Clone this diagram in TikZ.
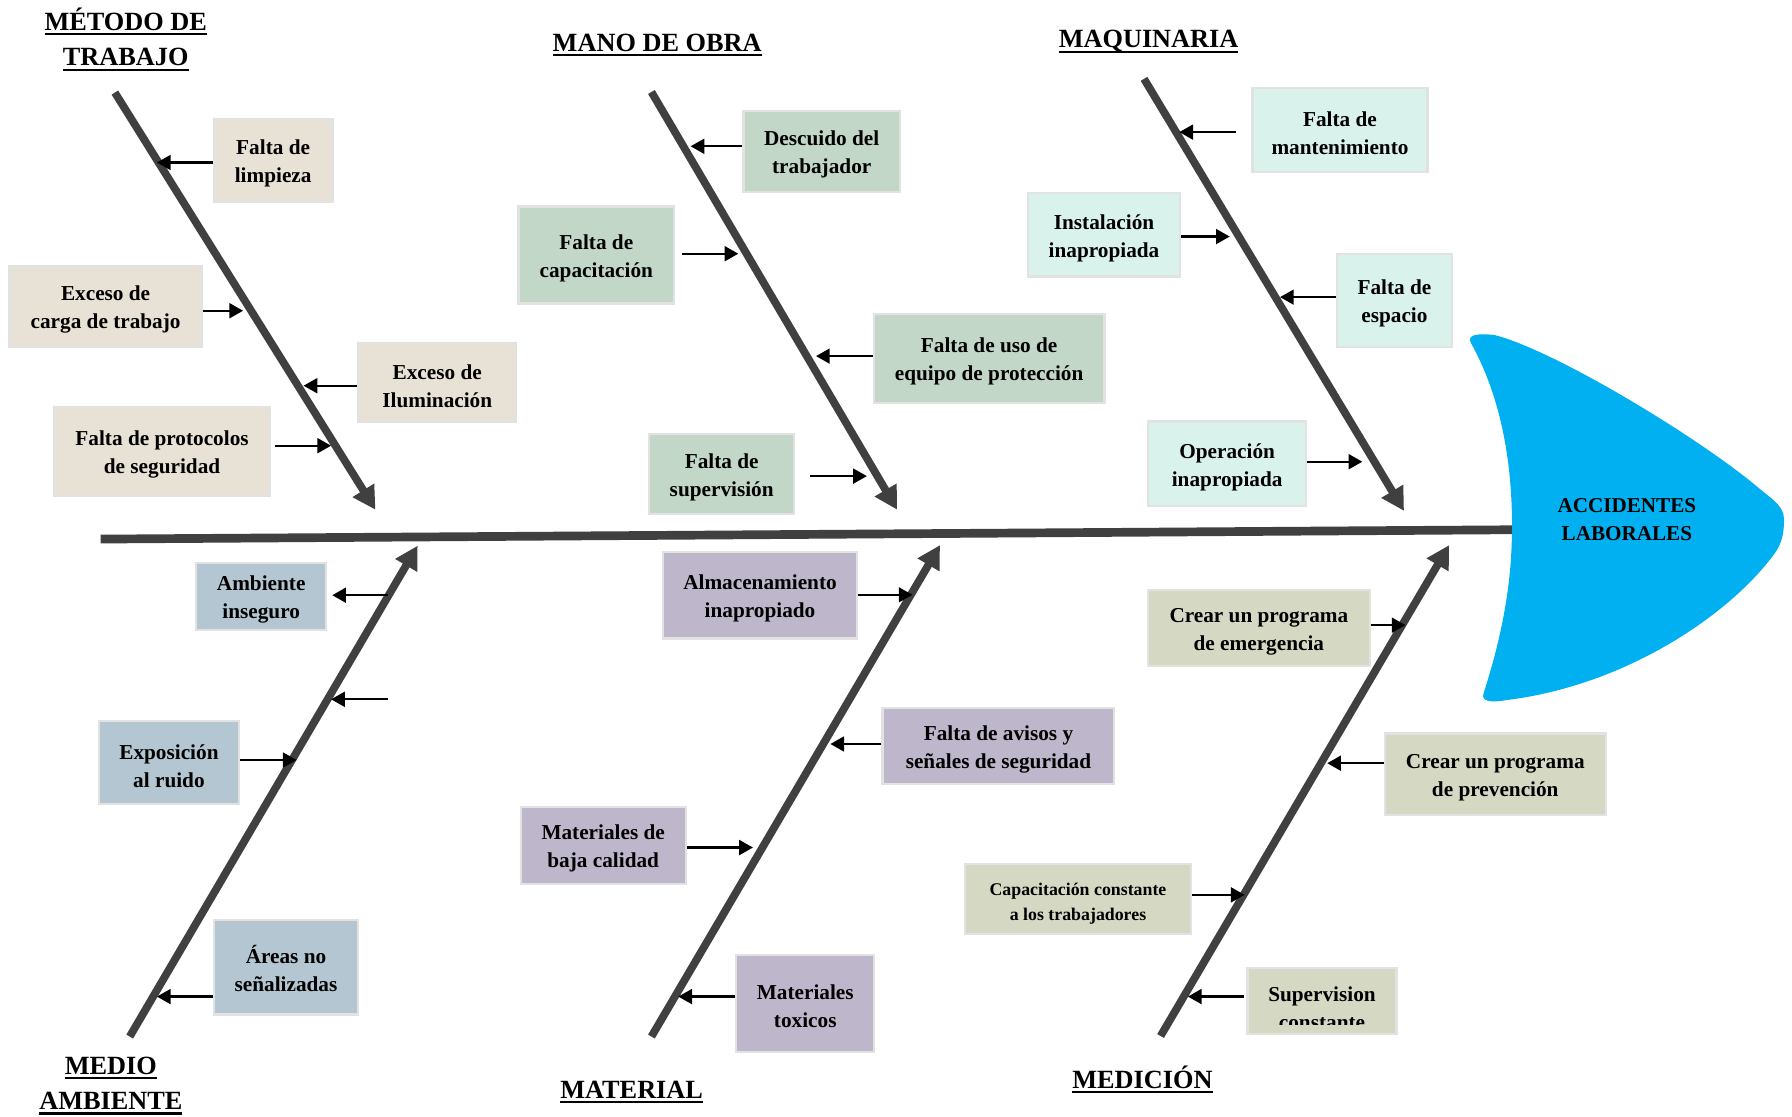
\documentclass[tikz,border=0pt]{standalone}
\usepackage{fontspec}
\setmainfont{Liberation Serif}
\usetikzlibrary{arrows.meta}
\definecolor{bone}{HTML}{404040}
\definecolor{cMet}{HTML}{E8E1D5}
\definecolor{cMan}{HTML}{C3D7C9}
\definecolor{cMaq}{HTML}{D9F2EC}
\definecolor{cAmb}{HTML}{B4C6D2}
\definecolor{cMat}{HTML}{BEB6CB}
\definecolor{cMed}{HTML}{D5D9C4}
\definecolor{headblue}{HTML}{00B0F0}
\definecolor{boxline}{HTML}{E2E2E2}
\newcommand\ulin[1]{\setbox0\hbox{#1}\rlap{\rule[-2.2pt]{\wd0}{1pt}}\box0}
\newcommand\bxs{\rule{0pt}{9.3pt}}
\tikzset{
  bonel/.style={line width=3.4pt, draw=bone, -{Triangle[length=10pt,width=10.5pt]}},
  spinel/.style={line width=3.8pt, draw=bone},
  sarrow/.style={line width=1pt, draw=black, -{Triangle[length=6pt,width=6.5pt]}},
  sz/.style 2 args={minimum width=#1pt, minimum height=#2pt},
  cbox/.style={rectangle, draw=boxline, line width=1pt, inner sep=0pt, align=center,
    font=\bfseries\fontsize{9.3pt}{12.25pt}\selectfont},
  ttl/.style={inner sep=0pt, align=center, font=\bfseries\fontsize{11.5pt}{15.5pt}\selectfont},
}
\begin{document}
\begin{tikzpicture}[x=0.5pt, y=-0.5pt]
\fill[white] (0,0) rectangle (1568,977);
\useasboundingbox (0,0) rectangle (1568,977);

% spine
\coordinate (sp0) at (88,471.7);
\coordinate (sp1) at (1330,463.5);
\draw[spinel] (sp0) -- (sp1);

% bones
\coordinate (b1s) at (100.5,81);   \coordinate (b1e) at (328.5,446);
\coordinate (b2s) at (570,80.5);   \coordinate (b2e) at (785,446);
\coordinate (b3s) at (1001,69);    \coordinate (b3e) at (1228.5,447);
\coordinate (b4s) at (113.5,907);  \coordinate (b4e) at (365.5,477.5);
\coordinate (b5s) at (570,907);    \coordinate (b5e) at (822.5,477);
\coordinate (b6s) at (1015.5,906.5); \coordinate (b6e) at (1268,477);
\draw[bonel] (b1s) -- (b1e);
\draw[bonel] (b2s) -- (b2e);
\draw[bonel] (b3s) -- (b3e);
\draw[bonel] (b4s) -- (b4e);
\draw[bonel] (b5s) -- (b5e);
\draw[bonel] (b6s) -- (b6e);

% fish head
\fill[headblue] (1287,300) .. controls (1283,292) and (1295,292) .. (1307,293)
  .. controls (1360,306) and (1490,385) .. (1540,428)
  .. controls (1552,438) and (1561,443) .. (1561,455)
  .. controls (1561,475) and (1555,482) .. (1546,493)
  .. controls (1506,542) and (1420,600) .. (1318,612.6)
  .. controls (1305,615) and (1296,614) .. (1298,607)
  .. controls (1318,545) and (1323,500) .. (1323,460)
  .. controls (1323,400) and (1312,345) .. (1287,300) -- cycle;
\node[inner sep=0pt, align=center, font=\bfseries\fontsize{9.25pt}{12.25pt}\selectfont] (head) at (1423.5,455) {ACCIDENTES\\LABORALES};

% titles
\node[ttl] (tmet) at (110,34.5) {\ulin{MÉTODO DE}\\\ulin{TRABAJO}};
\node[ttl] (tman) at (575,39.5) {\ulin{MANO DE OBRA}};
\node[ttl] (tmaq) at (1005,36.5) {\ulin{MAQUINARIA}};
\node[ttl] (tamb) at (97,950) {\ulin{MEDIO}\\\ulin{AMBIENTE}};
\node[ttl] (tmat) at (552.7,955.5) {\ulin{MATERIAL}};
\node[ttl] (tmed) at (999.6,944.5) {\ulin{MEDICIÓN}};

% Metodo de trabajo
\node[cbox, fill=cMet, sz={52}{36.5}] (m1) at (239,140.5) {\bxs Falta de\\limpieza};
\node[cbox, fill=cMet, sz={84}{35.5}] (m2) at (92.4,268.3) {\bxs Exceso de\\carga de trabajo};
\node[cbox, fill=cMet, sz={68.8}{34.7}] (m3) at (382.6,334.7) {\bxs Exceso de\\Iluminación};
\node[cbox, fill=cMet, sz={94.6}{38.75}] (m4) at (141.8,395) {\bxs Falta de protocolos\\de seguridad};
% Mano de obra
\node[cbox, fill=cMan, sz={68.55}{35.5}] (o1) at (719,132.5) {\bxs Descuido del\\trabajador};
\node[cbox, fill=cMan, sz={68}{42.5}] (o2) at (521.8,223.1) {\bxs Falta de\\capacitación};
\node[cbox, fill=cMan, sz={100.8}{38.75}] (o3) at (865.5,313.75) {\bxs Falta de uso de\\equipo de protección};
\node[cbox, fill=cMan, sz={63.5}{35}] (o4) at (631.5,415) {\bxs Falta de\\supervisión};
% Maquinaria
\node[cbox, fill=cMaq, sz={76.5}{36.8}] (q1) at (1172.5,113.8) {\bxs Falta de\\mantenimiento};
\node[cbox, fill=cMaq, sz={66.75}{36.65}] (q2) at (966,205.4) {\bxs Instalación\\inapropiada};
\node[cbox, fill=cMaq, sz={50.4}{40.9}] (q3) at (1220.1,262.9) {\bxs Falta de\\espacio};
\node[cbox, fill=cMaq, sz={69.25}{37.1}] (q4) at (1073.75,405.9) {\bxs Operación\\inapropiada};
% Medio ambiente
\node[cbox, fill=cAmb, sz={56.75}{29.4}] (a1) at (228.55,522) {\bxs Ambiente\\inseguro};
\node[cbox, fill=cAmb, sz={61.45}{36.35}] (a2) at (147.85,667.35) {\bxs Exposición\\al ruido};
\node[cbox, fill=cAmb, sz={62.75}{41.55}] (a3) at (250.25,846.25) {\bxs Áreas no\\señalizadas};
% Material
\node[cbox, fill=cMat, sz={85}{37.85}] (t1) at (665,520.85) {\bxs Almacenamiento\\inapropiado};
\node[cbox, fill=cMat, sz={101.35}{33.2}] (t2) at (873.65,652.8) {\bxs Falta de avisos y\\señales de seguridad};
\node[cbox, fill=cMat, sz={72.2}{33.75}] (t3) at (527.8,739.75) {\bxs Materiales de\\baja calidad};
\node[cbox, fill=cMat, sz={60.4}{42.4}] (t4) at (704.6,878) {\bxs Materiales\\toxicos};
% Medicion
\node[cbox, fill=cMed, sz={97}{33.25}] (d1) at (1101.5,549.75) {\bxs Crear un programa\\de emergencia};
\node[cbox, fill=cMed, sz={96.65}{35.75}] (d2) at (1308.35,677.55) {\bxs Crear un programa\\de prevención};
\node[cbox, fill=cMed, sz={98.75}{30.75}, font=\bfseries\fontsize{7.8pt}{11pt}\selectfont] (d3) at (943.25,786.65) {\rule{0pt}{9.3pt}Capacitación constante\\a los trabajadores};
\node[cbox, fill=cMed, sz={65.25}{28.75}] (d4) at (1156.75,875.75) {};
\begin{scope}
  \clip (1092,849) rectangle (1221,896);
  \node[cbox, draw=none, fill=none] (d4t) at (1156.75,879.5) {\bxs Supervision\\constante};
\end{scope}

% small arrows
\coordinate (k1) at (137.3,142.2);  \draw[sarrow] (k1 -| m1.west) -- (k1);
\coordinate (k2) at (212.7,271.9);  \draw[sarrow] (k2 -| m2.east) -- (k2);
\coordinate (k3) at (265.6,337.5);  \draw[sarrow] (k3 -| m3.west) -- (k3);
\coordinate (k4) at (289.7,390);    \draw[sarrow, shorten <=1.5pt] (k4 -| m4.east) -- (k4);
\coordinate (k5) at (604.3,128);    \draw[sarrow] (k5 -| o1.west) -- (k5);
\coordinate (k6) at (646,222);      \draw[sarrow, shorten <=3.1pt] (k6 -| o2.east) -- (k6);
\coordinate (k7) at (714,311.6);    \draw[sarrow] (k7 -| o3.west) -- (k7);
\coordinate (k8) at (758.5,416.6);  \draw[sarrow, shorten <=6.35pt] (k8 -| o4.east) -- (k8);
\coordinate (k9) at (1031.9,115.6); \draw[sarrow, shorten <=6.65pt] (k9 -| q1.west) -- (k9);
\coordinate (k10) at (1076,207);    \draw[sarrow] (k10 -| q2.east) -- (k10);
\coordinate (k11) at (1120,260);    \draw[sarrow] (k11 -| q3.west) -- (k11);
\coordinate (k12) at (1192,404);    \draw[sarrow] (k12 -| q4.east) -- (k12);
\coordinate (k13) at (339.2,520.8); \draw[sarrow, shorten >=2.2pt] (k13) -- (k13 -| a1.east);
\coordinate (k14) at (339.2,611.9); \coordinate (k15) at (289.7,611.9); \draw[sarrow] (k14) -- (k15);
\coordinate (k16) at (259.5,665);   \draw[sarrow] (k16 -| a2.east) -- (k16);
\coordinate (k17) at (137.3,872);   \draw[sarrow] (k17 -| a3.west) -- (k17);
\coordinate (k18) at (798.4,520.5); \draw[sarrow] (k18 -| t1.east) -- (k18);
\coordinate (k19) at (726.6,651);   \draw[sarrow] (k19 -| t2.west) -- (k19);
\coordinate (k20) at (658.8,741.6); \draw[sarrow] (k20 -| t3.east) -- (k20);
\coordinate (k21) at (593.5,872);   \draw[sarrow] (k21 -| t4.west) -- (k21);
\coordinate (k22) at (1229.8,547);  \draw[sarrow] (k22 -| d1.east) -- (k22);
\coordinate (k23) at (1161.3,667.8);\draw[sarrow] (k23 -| d2.west) -- (k23);
\coordinate (k24) at (1089,783);    \draw[sarrow] (k24 -| d3.east) -- (k24);
\coordinate (k25) at (1039.4,872);  \draw[sarrow, shorten <=1.2pt] (k25 -| d4.west) -- (k25);
\end{tikzpicture}
\end{document}
